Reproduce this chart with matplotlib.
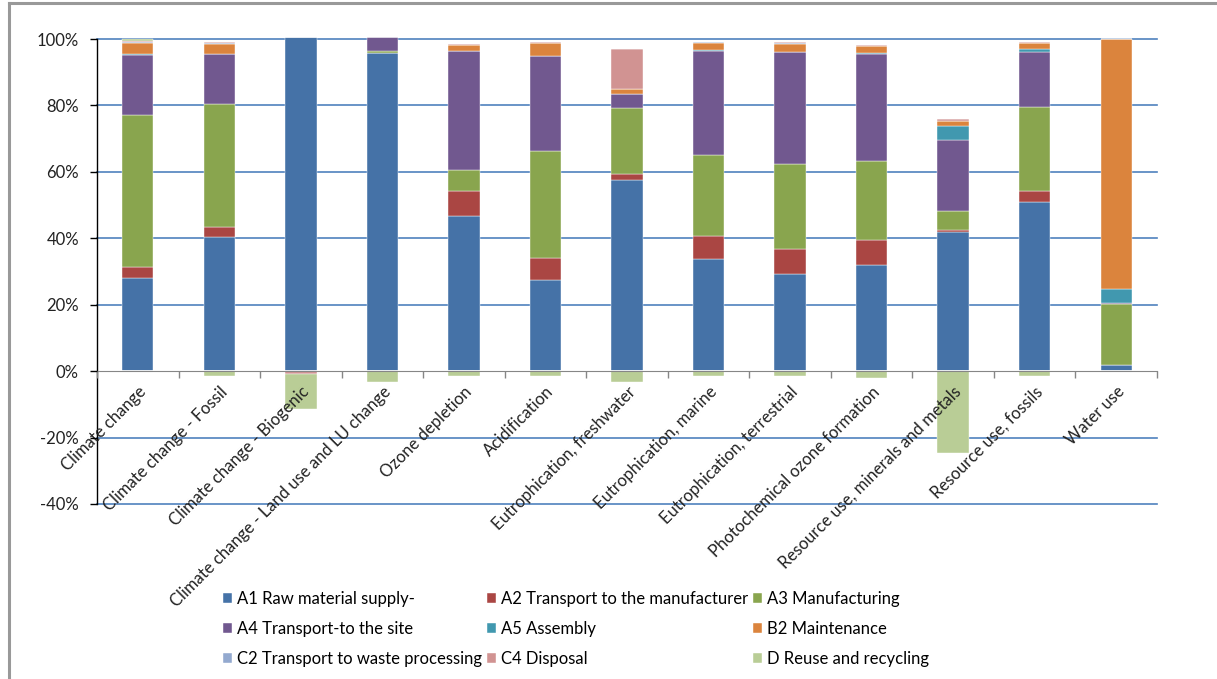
import matplotlib
matplotlib.use("Agg")
import matplotlib.pyplot as plt
import numpy as np
from matplotlib.lines import Line2D
from matplotlib.ticker import FuncFormatter, FixedLocator

categories = ["Climate change", "Climate change - Fossil", "Climate change - Biogenic",
              "Climate change - Land use and LU change", "Ozone depletion", "Acidification",
              "Eutrophication, freshwater", "Eutrophication, marine", "Eutrophication, terrestrial",
              "Photochemical ozone formation", "Resource use, minerals and metals",
              "Resource use, fossils", "Water use"]

series_names = ["A1 Raw material supply-", "A2 Transport to the manufacturer", "A3 Manufacturing",
                "A4 Transport-to the site", "A5 Assembly", "B2 Maintenance",
                "C2 Transport to waste processing", "C4 Disposal", "D Reuse and recycling"]

A1 = [28.1, 40.4, 100.5, 95.8, 46.8, 27.3, 57.4, 33.7, 29.1, 32.0, 41.9, 50.9, 1.9]
A2 = [3.4, 3.1, 0.0, 0.0, 7.3, 6.8, 1.9, 7.0, 7.8, 7.5, 0.7, 3.2, 0.0]
A3 = [45.5, 37.0, 0.0, 0.7, 6.5, 32.2, 19.8, 24.5, 25.5, 23.7, 5.6, 25.4, 18.3]
A4 = [18.3, 14.9, 0.0, 4.1, 35.9, 28.5, 4.2, 31.2, 33.7, 32.2, 21.4, 16.6, 0.4]
A5 = [0.1, 0.2, 0.0, 0.0, 0.0, 0.1, 0.0, 0.2, 0.1, 0.3, 4.1, 0.9, 4.2]
B2 = [3.5, 3.0, 0.0, 0.0, 1.6, 3.8, 1.6, 2.3, 2.4, 2.1, 1.5, 1.8, 75.2]
C2 = [0.2, 0.1, 0.0, 0.0, 0.1, 0.1, 0.1, 0.1, 0.1, 0.1, 0.1, 0.1, 0.0]
C4 = [0.3, 0.3, -0.9, 0.0, 0.4, 0.2, 12.1, 0.2, 0.3, 0.4, 0.5, 0.2, 0.0]
D = [0.5, -1.4, -10.4, -3.4, -1.6, -1.4, -3.2, -1.4, -1.4, -2.0, -24.6, -1.5, 0.0]

y_ticks = [-40, -20, 0, 20, 40, 60, 80, 100]

colors = ["#4572A7", "#AA4643", "#89A54E", "#71588F", "#4198AF", "#DB843D",
          "#93A9CF", "#D19392", "#B9CD96"]

plt.rcParams['font.family'] = ['Lato', 'DejaVu Sans']
FS = 12

fig = plt.figure(figsize=(12.17, 6.79), dpi=100)
ax = fig.add_axes([97/1217, 1-504/679, (1157-97)/1217, (504-39)/679])

series = [A1, A2, A3, A4, A5, B2, C2, C4, D]
x = np.arange(len(categories))
pos_base = np.zeros(len(categories))
neg_base = np.zeros(len(categories))
handles = []
for name, vals, col in zip(series_names, series, colors):
    v = np.array(vals, dtype=float)
    pos = np.where(v > 0, v, 0)
    neg = np.where(v < 0, v, 0)
    b = ax.bar(x, pos, bottom=pos_base, width=0.385, color=col, edgecolor="#ffffff",
               linewidth=0.3, label=name, zorder=2, clip_on=False)
    ax.bar(x, neg, bottom=neg_base, width=0.385, color=col, edgecolor="#ffffff",
           linewidth=0.3, zorder=2, clip_on=False)
    pos_base += pos
    neg_base += neg
    handles.append(b)

ax.set_xlim(-0.5, len(categories) - 0.5)
ax.set_ylim(-40, 100)
ax.yaxis.set_major_locator(FixedLocator(y_ticks))
ax.yaxis.set_major_formatter(FuncFormatter(lambda v, p: f"{int(v)}%"))
for yv in y_ticks:
    if yv != 0:
        ax.axhline(yv, color="#4F81BD", linewidth=1.2, zorder=1, clip_on=False)
ax.set_axisbelow(False)

for s in ['top', 'right']:
    ax.spines[s].set_visible(False)
ax.spines['bottom'].set_position(('data', 0))
ax.spines['bottom'].set_color('#868686')
ax.spines['left'].set_color('black')
ax.spines['left'].set_linewidth(1.0)

ax.set_xticks(x)
ax.set_xticklabels(categories, rotation=45, ha='right', va='top', rotation_mode='anchor',
                   fontsize=FS, color='#222222')
ax.tick_params(axis='x', which='major', length=0, pad=9)
ax.set_xticks(np.arange(-0.5, len(categories) + 0.5, 1), minor=True)
ax.tick_params(axis='x', which='minor', length=5, color='#868686', width=1)
ax.tick_params(axis='y', length=5, width=1, pad=8, labelsize=FS, labelcolor='#222222')

order = [0, 3, 6, 1, 4, 7, 2, 5, 8]
leg = fig.legend([handles[i] for i in order], [series_names[i] for i in order],
                 ncol=3, loc='upper left', bbox_to_anchor=(216/1217, 1-584/679),
                 frameon=False, fontsize=FS, handlelength=0.55, handleheight=0.55,
                 handletextpad=0.3, columnspacing=0.3, labelspacing=0.85, borderaxespad=0)

# page frame
fig.add_artist(Line2D([8.5/1217, 8.5/1217], [0, 1-2.5/679], transform=fig.transFigure,
                      color='#999999', linewidth=2.2))
fig.add_artist(Line2D([8.5/1217, 1], [1-2.5/679, 1-2.5/679], transform=fig.transFigure,
                      color='#999999', linewidth=2.2))

fig.savefig("out.png", dpi=100)
